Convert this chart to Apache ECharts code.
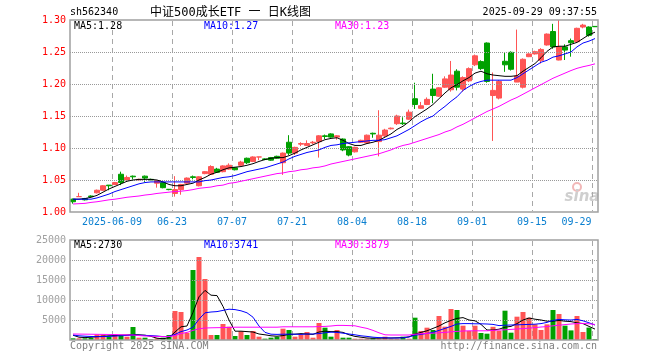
<!DOCTYPE html>
<html><head><meta charset="utf-8">
<script src="https://cdn.jsdelivr.net/npm/echarts/dist/echarts.min.js"></script>
<style>html,body{margin:0;padding:0;background:#fff}#c{width:660px;height:360px}</style>
</head><body><div id="c"></div>
<script>
const dates = ['2025-05-28','2025-05-29','2025-05-30','2025-06-03','2025-06-04','2025-06-05','2025-06-06','2025-06-09','2025-06-10','2025-06-11',
'2025-06-12','2025-06-13','2025-06-16','2025-06-17','2025-06-18','2025-06-19','2025-06-20','2025-06-23','2025-06-24','2025-06-25',
'2025-06-26','2025-06-27','2025-06-30','2025-07-01','2025-07-02','2025-07-03','2025-07-04','2025-07-07','2025-07-08','2025-07-09',
'2025-07-10','2025-07-11','2025-07-14','2025-07-15','2025-07-16','2025-07-17','2025-07-18','2025-07-21','2025-07-22','2025-07-23',
'2025-07-24','2025-07-25','2025-07-28','2025-07-29','2025-07-30','2025-07-31','2025-08-01','2025-08-04','2025-08-05','2025-08-06',
'2025-08-07','2025-08-08','2025-08-11','2025-08-12','2025-08-13','2025-08-14','2025-08-15','2025-08-18','2025-08-19','2025-08-20',
'2025-08-21','2025-08-22','2025-08-25','2025-08-26','2025-08-27','2025-08-28','2025-08-29','2025-09-01','2025-09-02','2025-09-03',
'2025-09-04','2025-09-05','2025-09-08','2025-09-09','2025-09-10','2025-09-11','2025-09-12','2025-09-15','2025-09-16','2025-09-17',
'2025-09-18','2025-09-19','2025-09-22','2025-09-23','2025-09-24','2025-09-25','2025-09-26','2025-09-29'];

const opens = [1.020,1.024,1.021,1.025,1.030,1.034,1.042,1.043,1.059,1.050,
1.056,1.050,1.056,1.051,1.045,1.046,1.0355,1.029,1.035,1.045,
1.055,1.041,1.060,1.059,1.067,1.063,1.067,1.069,1.073,1.084,
1.079,1.086,1.083,1.085,1.087,1.077,1.109,1.092,1.106,1.104,
1.108,1.110,1.119,1.122,1.117,1.114,1.102,1.094,1.109,1.108,
1.123,1.110,1.119,1.130,1.138,1.139,1.145,1.177,1.162,1.168,
1.192,1.181,1.195,1.191,1.220,1.192,1.205,1.230,1.235,1.264,
1.182,1.178,1.2355,1.2495,1.203,1.195,1.2427,1.247,1.237,1.261,
1.282,1.2375,1.258,1.2677,1.266,1.289,1.289,1.290];

const closes = [1.016,1.024,1.019,1.024,1.034,1.041,1.041,1.046,1.046,1.054,
1.055,1.051,1.053,1.050,1.049,1.038,1.035,1.035,1.043,1.053,
1.054,1.055,1.063,1.071,1.062,1.072,1.073,1.066,1.078,1.077,
1.086,1.086,1.082,1.081,1.084,1.092,1.092,1.101,1.107,1.107,
1.109,1.119,1.118,1.117,1.119,1.097,1.089,1.101,1.112,1.120,
1.122,1.120,1.128,1.131,1.150,1.138,1.156,1.168,1.166,1.176,
1.182,1.194,1.208,1.214,1.195,1.210,1.224,1.244,1.224,1.204,
1.190,1.204,1.230,1.223,1.2125,1.2386,1.247,1.2505,1.254,1.278,
1.258,1.258,1.253,1.2645,1.287,1.292,1.276,1.2895];

const lows = [1.013,1.024,1.018,1.023,1.029,1.033,1.034,1.042,1.042,1.049,
1.051,1.049,1.047,1.049,1.038,1.037,1.034,1.024,1.027,1.044,
1.051,1.040,1.059,1.058,1.061,1.062,1.066,1.065,1.072,1.075,
1.078,1.081,1.081,1.080,1.083,1.058,1.089,1.089,1.103,1.103,
1.106,1.085,1.114,1.116,1.113,1.095,1.087,1.093,1.108,1.107,
1.116,1.087,1.117,1.129,1.136,1.136,1.144,1.161,1.161,1.167,
1.170,1.180,1.194,1.188,1.190,1.188,1.203,1.228,1.222,1.202,
1.111,1.176,1.219,1.221,1.203,1.193,1.242,1.246,1.232,1.260,
1.255,1.237,1.2375,1.2427,1.265,1.287,1.274,1.289];

const highs = [1.021,1.030,1.022,1.026,1.035,1.042,1.042,1.047,1.063,1.057,
1.057,1.052,1.057,1.052,1.050,1.047,1.036,1.056,1.044,1.054,
1.057,1.056,1.064,1.073,1.069,1.073,1.076,1.070,1.080,1.085,
1.087,1.086,1.084,1.086,1.088,1.093,1.120,1.102,1.109,1.112,
1.111,1.120,1.121,1.123,1.120,1.115,1.103,1.102,1.113,1.121,
1.124,1.159,1.130,1.132,1.152,1.148,1.160,1.202,1.172,1.179,
1.216,1.195,1.212,1.236,1.223,1.212,1.226,1.246,1.237,1.265,
1.218,1.206,1.2495,1.251,1.285,1.240,1.248,1.252,1.256,1.279,
1.294,1.300,1.262,1.271,1.288,1.294,1.290,1.290];

const volumes = [420,420,420,580,1400,1400,830,1420,1250,830,
3250,580,580,170,420,580,1250,7250,7000,1800,
17500,20750,15250,1250,1250,4000,3330,1000,2170,1250,
2250,830,330,580,830,2830,2500,830,1420,2000,
580,4250,3080,830,2500,580,580,330,330,330,
420,330,830,330,330,830,330,5580,2250,3080,
2500,6000,3330,7750,7500,3580,2250,3580,1750,1580,
3300,2300,7330,1830,5830,7000,5580,3920,2500,3920,
7500,6500,3580,2400,6000,2000,3100,250];

const ma5 = [1.020,1.020,1.021,1.023,1.026,1.031,1.036,1.040,1.044,1.048,
1.050,1.051,1.051,1.051,1.050,1.047,1.043,1.041,1.041,1.043,
1.045,1.050,1.054,1.059,1.062,1.066,1.069,1.070,1.071,1.073,
1.0755,1.079,1.082,1.084,1.085,1.085,1.088,1.092,1.097,1.101,
1.105,1.109,1.113,1.115,1.116,1.112,1.107,1.104,1.104,1.107,
1.109,1.112,1.117,1.122,1.129,1.134,1.141,1.149,1.155,1.161,
1.168,1.177,1.186,1.194,1.199,1.205,1.210,1.217,1.220,1.216,
1.214,1.213,1.212,1.212,1.213,1.220,1.226,1.232,1.241,1.251,
1.258,1.259,1.259,1.262,1.265,1.271,1.277,1.281];

const ma10 = [1.020,1.020,1.020,1.020,1.022,1.025,1.028,1.032,1.035,1.038,
1.041,1.044,1.046,1.047,1.047,1.047,1.047,1.047,1.047,1.047,
1.047,1.047,1.049,1.050,1.052,1.054,1.055,1.057,1.060,1.063,
1.065,1.067,1.069,1.072,1.075,1.078,1.083,1.087,1.090,1.093,
1.095,1.097,1.101,1.104,1.105,1.107,1.108,1.109,1.110,1.111,
1.112,1.112,1.113,1.116,1.119,1.124,1.129,1.135,1.141,1.146,
1.150,1.158,1.165,1.173,1.180,1.190,1.196,1.201,1.204,1.206,
1.206,1.206,1.206,1.206,1.210,1.216,1.222,1.228,1.234,1.237,
1.242,1.244,1.247,1.250,1.258,1.264,1.267,1.271];

const ma30 = [1.0125,1.013,1.0135,1.015,1.016,1.0175,1.019,1.020,1.0215,1.023,
1.024,1.025,1.0265,1.0275,1.029,1.030,1.031,1.032,1.0325,1.0335,
1.035,1.037,1.038,1.039,1.041,1.042,1.0448,1.046,1.048,1.050,
1.052,1.054,1.056,1.058,1.060,1.061,1.063,1.064,1.066,1.067,
1.069,1.070,1.072,1.075,1.077,1.079,1.081,1.083,1.085,1.087,
1.089,1.091,1.094,1.097,1.101,1.104,1.106,1.109,1.112,1.115,
1.118,1.121,1.125,1.128,1.133,1.137,1.142,1.147,1.152,1.157,
1.161,1.165,1.170,1.175,1.179,1.184,1.189,1.194,1.199,1.204,
1.209,1.213,1.217,1.221,1.2245,1.227,1.229,1.2315];

const vma5 = [1200,700,600,700,830,950,1050,1100,1200,1250,
1350,1300,1200,900,450,300,600,2000,3300,3500,
6900,10800,12400,11200,11100,8400,5000,2200,2200,2100,
2000,1500,1300,1050,950,1100,1400,1450,1600,1500,
1400,2000,2200,2100,2100,1900,1300,900,700,500,
450,450,500,500,550,600,800,1500,1900,2300,
2900,3500,4300,4900,5400,5600,5000,4800,3900,2500,
2500,2700,3200,3400,4100,5000,5500,5200,5000,4700,
4700,4900,4700,4600,4300,4100,3400,2730];

const vma10 = [1250,1050,950,880,830,850,900,1000,1050,1150,
1250,1200,1150,1100,1000,850,900,1400,2100,2500,
3200,5200,6800,7000,7100,7400,7700,7600,7300,6800,
5700,3500,1900,1450,1400,1450,1450,1450,1400,1500,
1500,1600,1800,1950,1900,1700,1500,1300,1050,900,
700,600,550,500,500,550,750,1200,1400,1650,
1900,2400,2900,3400,4000,4100,4100,4050,4050,4000,
3900,3600,3700,3750,3800,3850,3900,3950,4100,4400,
4900,5150,5050,5000,5150,4800,4300,3741];

const vma30 = [1500,1480,1460,1440,1420,1400,1380,1350,1320,1280,
1250,1100,1000,950,900,850,850,1100,1600,1900,
2400,2800,3000,3050,3080,3100,3150,3200,3200,3200,
3200,3200,3200,3200,3200,3300,3300,3300,3300,3300,
3300,3350,3400,3500,3650,3650,3600,3550,3200,2900,
2400,1800,1300,1250,1250,1250,1250,1450,1550,1650,
1700,1800,1900,2050,2150,2250,2300,2300,2300,2300,
2400,2500,2550,2650,2750,2850,2950,3100,3250,3350,
3550,3700,3850,4000,4100,4150,4050,3879];

const tickDates = ['2025-06-09','2025-06-23','2025-07-07','2025-07-21','2025-08-04','2025-08-18','2025-09-01','2025-09-15','2025-09-29'];
const tickLabels = ['2025-06-09','06-23','07-07','07-21','08-04','08-18','09-01','09-15','09-29'];
const priceGridVals = [1.05, 1.10, 1.15, 1.20, 1.25];
const volGridVals = [5000, 10000, 15000, 20000];

const FONT = '"DejaVu Sans Mono", "Liberation Mono", monospace';
const UP = '#ff5555', DOWN = '#00a000';
const chart = echarts.init(document.getElementById('c'));

const candleData = dates.map((d, i) => [opens[i], closes[i], lows[i], highs[i]]);
const volData = volumes.map((v, i) => ({value: v, itemStyle: {color: closes[i] >= opens[i] ? UP : DOWN}}));
const isTick = (i) => tickDates.indexOf(dates[i]) >= 0;

function hMarkLine(vals) {
  return {silent: true, symbol: ['none', 'none'], animation: false, precision: 4,
    label: {show: false}, emphasis: {disabled: true},
    lineStyle: {color: '#999999', type: 'dotted', width: 1},
    data: vals.map(v => ({yAxis: v}))};
}
function lineSeries(data, color, xi, yi) {
  return {type: 'line', data: data, xAxisIndex: xi, yAxisIndex: yi, symbol: 'none', silent: true,
    lineStyle: {color: color, width: 1}, z: 5};
}
function txt(text, x, y, color, align, size) {
  return {type: 'text', x: x, y: y, silent: true, z: 100,
    style: {text: text, fill: color, font: (size || 10) + 'px ' + FONT, align: align || 'left', verticalAlign: 'middle'}};
}
function catAxis(gi, labels) {
  return {type: 'category', gridIndex: gi, data: dates, boundaryGap: true,
    axisLine: {show: false}, axisTick: {show: false},
    axisLabel: labels ? {interval: function (i) { return isTick(i); }, margin: 5, color: '#0a7fd0', fontFamily: FONT, fontSize: 10,
        formatter: (v) => {
          const j = tickDates.indexOf(v);
          if (j < 0) return '';
          return (j === tickDates.length - 1 ? '{e|' : '{m|') + tickLabels[j] + '}';
        },
        rich: {
          m: {padding: [0, 6, 0, 0], color: '#0a7fd0', fontFamily: FONT, fontSize: 10},
          e: {padding: [0, 37, 0, 0], color: '#0a7fd0', fontFamily: FONT, fontSize: 10}
        }} : {show: false},
    splitLine: {show: false}};
}
function valAxis(gi, min, max, interval, color, fmt) {
  return {type: 'value', gridIndex: gi, min: min, max: max, interval: interval,
    axisLine: {show: false}, axisTick: {show: false},
    axisLabel: {color: color, fontFamily: FONT, fontSize: 10, margin: 4, formatter: fmt},
    splitLine: {show: false}};
}

const last = dates.length - 1;
const baseGraphic = [
  {id: 'b0', type: 'rect', shape: {x: 70, y: 20, width: 528, height: 192}, silent: true, z: 90,
    style: {fill: 'none', stroke: '#a0a0a0', lineWidth: 1.5}},
  {id: 'b1', type: 'rect', shape: {x: 70, y: 240, width: 528, height: 100}, silent: true, z: 90,
    style: {fill: 'none', stroke: '#a0a0a0', lineWidth: 1.5}},
  txt('sh562340', 70, 12.5, '#000'),
  {type: 'text', x: 150, y: 13, silent: true, z: 100,
    style: {text: '中证500成长ETF 一 日K线图', fill: '#000', font: '12px ' + FONT + ', "Noto Sans CJK SC"', align: 'left', verticalAlign: 'middle'}},
  txt('2025-09-29 09:37:55', 597, 12.5, '#000', 'right'),
  txt('MA5:' + ma5[last].toFixed(2), 74, 26, '#000'),
  txt('MA10:' + ma10[last].toFixed(2), 204, 26, '#0000ff'),
  txt('MA30:' + ma30[last].toFixed(2), 335, 26, '#ff00ff'),
  txt('MA5:' + vma5[last], 74, 245.5, '#000'),
  txt('MA10:' + vma10[last], 204, 245.5, '#0000ff'),
  txt('MA30:' + vma30[last], 335, 245.5, '#ff00ff'),
  txt('Copyright 2025 SINA.COM', 70, 346, '#808080'),
  txt('http://finance.sina.com.cn', 597, 346, '#808080', 'right'),
  {type: 'circle', shape: {cx: 577, cy: 187, r: 4}, silent: true, z: 1,
    style: {fill: 'none', stroke: '#f2b8b8', lineWidth: 2}},
  {type: 'text', x: 582, y: 197, silent: true, z: 1,
    style: {text: 'sina', fill: '#cfcfcf', font: 'italic bold 15px "DejaVu Sans"', align: 'center', verticalAlign: 'middle'}}
];

const option = {
  animation: false,
  grid: [
    {left: 70, top: 20, width: 528, height: 192},
    {left: 70, top: 240, width: 528, height: 100}
  ],
  xAxis: [catAxis(0, true), catAxis(1, false)],
  yAxis: [
    valAxis(0, 1.00, 1.30, 0.05, '#ff0000', (v) => v.toFixed(2)),
    valAxis(1, 0, 25000, 5000, '#a0a0a0', (v) => v === 0 ? '' : String(v))
  ],
  series: [
    {type: 'candlestick', xAxisIndex: 0, yAxisIndex: 0, data: candleData, barWidth: 5, silent: true,
      itemStyle: {color: UP, color0: DOWN, borderColor: UP, borderColor0: DOWN, borderColorDoji: UP, borderWidth: 1},
      markLine: hMarkLine(priceGridVals)},
    lineSeries(ma5, '#000000', 0, 0),
    lineSeries(ma10, '#0000ff', 0, 0),
    lineSeries(ma30, '#ff00ff', 0, 0),
    {type: 'bar', xAxisIndex: 1, yAxisIndex: 1, data: volData, barWidth: 5, silent: true,
      markLine: hMarkLine(volGridVals)},
    lineSeries(vma5, '#000000', 1, 1),
    lineSeries(vma10, '#0000ff', 1, 1),
    lineSeries(vma30, '#ff00ff', 1, 1)
  ],
  graphic: baseGraphic
};
chart.setOption(option);

// vertical dashed date lines, positioned through the category axis scale
const vLines = [];
const c0 = chart.convertToPixel({xAxisIndex: 0}, dates[0]);
const c1 = chart.convertToPixel({xAxisIndex: 0}, dates[1]);
const band = (isFinite(c1 - c0) && c1 - c0 > 0) ? c1 - c0 : 6;
[[0, 20, 212], [1, 240, 340]].forEach(([xi, top, bottom], pi) => {
  tickDates.forEach((d, j) => {
    const cx = chart.convertToPixel({xAxisIndex: xi}, d);
    if (!isFinite(cx)) return;
    const x = Math.round(cx - band / 2) + 0.5;
    vLines.push({id: 'v' + pi + '_' + j, type: 'line', silent: true, z: 1,
      shape: {x1: x, y1: top + 1, x2: x, y2: bottom - 1},
      style: {stroke: '#a8a8a8', lineWidth: 1, lineDash: [5, 4]}});
  });
});
chart.setOption({graphic: baseGraphic.concat(vLines)});
</script></body></html>
